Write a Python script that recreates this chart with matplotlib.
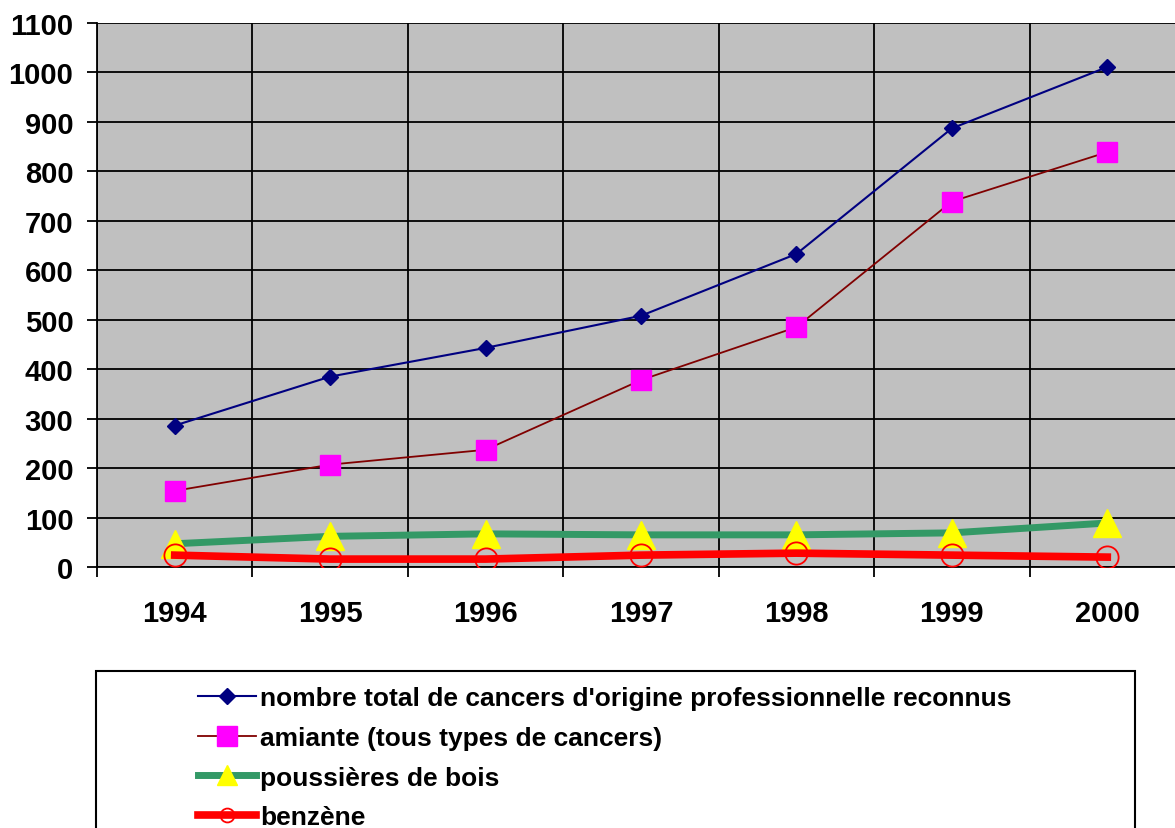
import matplotlib
matplotlib.use("Agg")
import matplotlib.pyplot as plt
from matplotlib.lines import Line2D
from matplotlib.patches import Rectangle
import numpy as np

# ---------------------------------------------------------------------------
# Donnees
# ---------------------------------------------------------------------------
years = ["1994", "1995", "1996", "1997", "1998", "1999", "2000"]
total = [286, 385, 443, 508, 633, 887, 1011]
amiante = [154, 207, 237, 378, 485, 739, 839]
bois = [47, 62, 67, 65, 65, 69, 89]
benzene = [24, 16, 16, 24, 28, 24, 20]

labels = [
    "nombre total de cancers d'origine professionnelle reconnus",
    "amiante (tous types de cancers)",
    "poussières de bois",
    "benzène",
]

plt.rcParams["font.family"] = ["Liberation Sans", "DejaVu Sans"]
plt.rcParams["font.weight"] = "bold"

W, H = 1175, 829
fig = plt.figure(figsize=(W / 100, H / 100), dpi=100)
# zone de trace : gauche 97px, haut 24px, bas 568px, droite coupee (1185px)
ax = fig.add_axes([97 / W, 1 - 568 / H, (1185 - 97) / W, (568 - 24) / H])
ax.set_facecolor("#C0C0C0")

x = np.arange(len(years))

# styles des series
st_total = dict(color="#000080", lw=1.5, marker="D", mfc="#000080", mec="#000080")
st_amiante = dict(color="#800000", lw=1.3, marker="s", mfc="#FF00FF", mec="#FF00FF")
st_bois = dict(color="#339966", lw=5, marker="^", mfc="#FFFF00", mec="#FFFF00")
st_benz = dict(color="#FF0000", lw=5.5, marker="o", mfc="none", mec="#FF0000", mew=1.3)

ax.plot(x, total, ms=8, zorder=3, **st_total)
ax.plot(x, amiante, ms=14.5, zorder=3, **st_amiante)
ax.plot(x, bois, ms=20, zorder=3, **st_bois)
ax.plot(x, benzene, ms=16, zorder=3, **st_benz)

ax.set_xlim(-0.5, len(years) - 0.5)
ax.set_ylim(0, 1100)
ax.set_yticks(np.arange(0, 1101, 100))
ax.set_xticks(x)
ax.set_xticklabels(years)
ax.set_xticks(np.arange(-0.5, len(years)), minor=True)

ax.tick_params(axis="x", which="major", length=0, pad=23, labelsize=21)
ax.tick_params(axis="x", which="minor", length=7, width=1.3, color="black")
ax.tick_params(axis="y", length=7, width=1.3, pad=10, labelsize=21)

ax.grid(True, axis="y", which="major", color="black", lw=1.3)
ax.grid(True, axis="x", which="minor", color="black", lw=1.3)
ax.set_axisbelow(True)

for s in ["top", "right"]:
    ax.spines[s].set_visible(False)
for s in ["left", "bottom"]:
    ax.spines[s].set_linewidth(1.3)

# ---------------------------------------------------------------------------
# Legende dans un cadre en bas (coupe par le bord de l'image)
# ---------------------------------------------------------------------------
box = Rectangle((96 / W, -0.05), (1135 - 96) / W, 1.05 - 672 / H,
                transform=fig.transFigure, fill=False, ec="black", lw=1.5)
fig.patches.append(box)

# marqueurs un peu plus petits dans la legende
handles = [
    Line2D([], [], ms=8, **st_total),
    Line2D([], [], ms=14.5, **st_amiante),
    Line2D([], [], ms=14, **st_bois),
    Line2D([], [], ms=10, **st_benz),
]
fig.legend(handles, labels, loc="upper left",
           bbox_to_anchor=(198 / W, 1 - 687 / H), frameon=False,
           fontsize=19, handlelength=2.2, handletextpad=0.15,
           labelspacing=0.6, borderpad=0, borderaxespad=0)

fig.savefig("out.png", dpi=100)
